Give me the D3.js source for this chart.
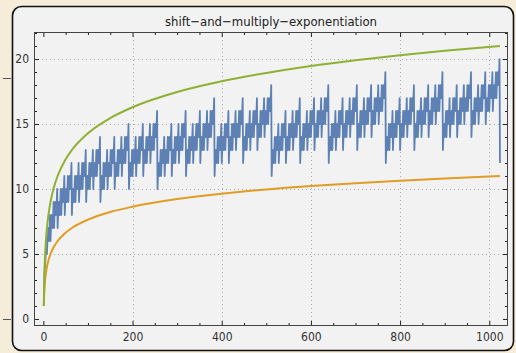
<!DOCTYPE html>
<html>
<head>
<meta charset="utf-8">
<script src="https://cdn.jsdelivr.net/npm/d3@7"></script>
<style>
  html, body { margin: 0; padding: 0; background: #f5ecd9; }
  svg { display: block; }
  text { font-family: "Liberation Sans Narrow", "DejaVu Sans Condensed", sans-serif; }
</style>
</head>
<body>
<div id="chart"></div>
<script>
// multiplications needed for exponent n = 1..1024 (read row by row, 16 per row)
const stepCounts = [
  2,3,4,4,5,5,6,5,6,6,7,6,7,7,8,
  6,7,7,8,7,8,8,9,7,8,8,9,8,9,9,10,
  7,8,8,9,8,9,9,10,8,9,9,10,9,10,10,11,
  8,9,9,10,9,10,10,11,9,10,10,11,10,11,11,12,
  8,9,9,10,9,10,10,11,9,10,10,11,10,11,11,12,
  9,10,10,11,10,11,11,12,10,11,11,12,11,12,12,13,
  9,10,10,11,10,11,11,12,10,11,11,12,11,12,12,13,
  10,11,11,12,11,12,12,13,11,12,12,13,12,13,13,14,
  9,10,10,11,10,11,11,12,10,11,11,12,11,12,12,13,
  10,11,11,12,11,12,12,13,11,12,12,13,12,13,13,14,
  10,11,11,12,11,12,12,13,11,12,12,13,12,13,13,14,
  11,12,12,13,12,13,13,14,12,13,13,14,13,14,14,15,
  10,11,11,12,11,12,12,13,11,12,12,13,12,13,13,14,
  11,12,12,13,12,13,13,14,12,13,13,14,13,14,14,15,
  11,12,12,13,12,13,13,14,12,13,13,14,13,14,14,15,
  12,13,13,14,13,14,14,15,13,14,14,15,14,15,15,16,
  10,11,11,12,11,12,12,13,11,12,12,13,12,13,13,14,
  11,12,12,13,12,13,13,14,12,13,13,14,13,14,14,15,
  11,12,12,13,12,13,13,14,12,13,13,14,13,14,14,15,
  12,13,13,14,13,14,14,15,13,14,14,15,14,15,15,16,
  11,12,12,13,12,13,13,14,12,13,13,14,13,14,14,15,
  12,13,13,14,13,14,14,15,13,14,14,15,14,15,15,16,
  12,13,13,14,13,14,14,15,13,14,14,15,14,15,15,16,
  13,14,14,15,14,15,15,16,14,15,15,16,15,16,16,17,
  11,12,12,13,12,13,13,14,12,13,13,14,13,14,14,15,
  12,13,13,14,13,14,14,15,13,14,14,15,14,15,15,16,
  12,13,13,14,13,14,14,15,13,14,14,15,14,15,15,16,
  13,14,14,15,14,15,15,16,14,15,15,16,15,16,16,17,
  12,13,13,14,13,14,14,15,13,14,14,15,14,15,15,16,
  13,14,14,15,14,15,15,16,14,15,15,16,15,16,16,17,
  13,14,14,15,14,15,15,16,14,15,15,16,15,16,16,17,
  14,15,15,16,15,16,16,17,15,16,16,17,16,17,17,18,
  11,12,12,13,12,13,13,14,12,13,13,14,13,14,14,15,
  12,13,13,14,13,14,14,15,13,14,14,15,14,15,15,16,
  12,13,13,14,13,14,14,15,13,14,14,15,14,15,15,16,
  13,14,14,15,14,15,15,16,14,15,15,16,15,16,16,17,
  12,13,13,14,13,14,14,15,13,14,14,15,14,15,15,16,
  13,14,14,15,14,15,15,16,14,15,15,16,15,16,16,17,
  13,14,14,15,14,15,15,16,14,15,15,16,15,16,16,17,
  14,15,15,16,15,16,16,17,15,16,16,17,16,17,17,18,
  12,13,13,14,13,14,14,15,13,14,14,15,14,15,15,16,
  13,14,14,15,14,15,15,16,14,15,15,16,15,16,16,17,
  13,14,14,15,14,15,15,16,14,15,15,16,15,16,16,17,
  14,15,15,16,15,16,16,17,15,16,16,17,16,17,17,18,
  13,14,14,15,14,15,15,16,14,15,15,16,15,16,16,17,
  14,15,15,16,15,16,16,17,15,16,16,17,16,17,17,18,
  14,15,15,16,15,16,16,17,15,16,16,17,16,17,17,18,
  15,16,16,17,16,17,17,18,16,17,17,18,17,18,18,19,
  12,13,13,14,13,14,14,15,13,14,14,15,14,15,15,16,
  13,14,14,15,14,15,15,16,14,15,15,16,15,16,16,17,
  13,14,14,15,14,15,15,16,14,15,15,16,15,16,16,17,
  14,15,15,16,15,16,16,17,15,16,16,17,16,17,17,18,
  13,14,14,15,14,15,15,16,14,15,15,16,15,16,16,17,
  14,15,15,16,15,16,16,17,15,16,16,17,16,17,17,18,
  14,15,15,16,15,16,16,17,15,16,16,17,16,17,17,18,
  15,16,16,17,16,17,17,18,16,17,17,18,17,18,18,19,
  13,14,14,15,14,15,15,16,14,15,15,16,15,16,16,17,
  14,15,15,16,15,16,16,17,15,16,16,17,16,17,17,18,
  14,15,15,16,15,16,16,17,15,16,16,17,16,17,17,18,
  15,16,16,17,16,17,17,18,16,17,17,18,17,18,18,19,
  14,15,15,16,15,16,16,17,15,16,16,17,16,17,17,18,
  15,16,16,17,16,17,17,18,16,17,17,18,17,18,18,19,
  15,16,16,17,16,17,17,18,16,17,17,18,17,18,18,19,
  16,17,17,18,17,18,18,19,17,18,18,19,18,19,19,20,
  12
];

// smooth bound curves
const boundN     = [1, 1.5, 2, 3, 4, 6, 8, 12, 16, 24, 32, 48, 64, 100, 150, 200, 300, 400, 500, 600, 700, 800, 900, 1024];
const upperBound = [1, 2.17, 3, 4.17, 5, 6.17, 7, 8.17, 9, 10.17, 11, 12.17, 13, 14.29, 15.46, 16.29, 17.46, 18.29, 18.93, 19.46, 19.9, 20.29, 20.63, 21];
const lowerBound = [1, 1.58, 2, 2.58, 3, 3.58, 4, 4.58, 5, 5.58, 6, 6.58, 7, 7.64, 8.23, 8.64, 9.23, 9.64, 9.97, 10.23, 10.45, 10.64, 10.81, 11];

const xTicks = [0, 200, 400, 600, 800, 1000];
const yTicks = [0, 5, 10, 15, 20];
const title = "shift\u2212and\u2212multiply\u2212exponentiation";

const W = 516, H = 353;
const plot = { left: 34, right: 508, top: 32, bottom: 326 };

const svg = d3.select("#chart").append("svg")
  .attr("width", W)
  .attr("height", H);

// page decorations
svg.append("rect")
  .attr("x", 12.5).attr("y", 6.5)
  .attr("width", 501).attr("height", 344)
  .attr("rx", 9)
  .attr("fill", "#f2f2f2")
  .attr("stroke", "#111")
  .attr("stroke-width", 1.6);

[78, 319].forEach(y => {
  svg.append("line")
    .attr("x1", 3).attr("x2", 11)
    .attr("y1", y + 0.5).attr("y2", y + 0.5)
    .attr("stroke", "#555");
});

const x = d3.scaleLinear().domain([-21, 1042]).range([plot.left, plot.right]);
const y = d3.scaleLinear().domain([-0.54, 22.08]).range([plot.bottom, plot.top]);

// grid
const grid = svg.append("g")
  .attr("stroke", "#a8a8a8")
  .attr("stroke-width", 1)
  .attr("stroke-dasharray", "1,3");

grid.selectAll("line.gx")
  .data(xTicks.filter(d => d !== 0))
  .join("line")
    .attr("x1", d => Math.round(x(d)) + 0.5)
    .attr("x2", d => Math.round(x(d)) + 0.5)
    .attr("y1", plot.top)
    .attr("y2", plot.bottom);

grid.selectAll("line.gy")
  .data(yTicks.filter(d => d !== 0))
  .join("line")
    .attr("y1", d => Math.round(y(d)) + 0.5)
    .attr("y2", d => Math.round(y(d)) + 0.5)
    .attr("x1", plot.left)
    .attr("x2", plot.right);

// series
svg.append("clipPath").attr("id", "clip")
  .append("rect")
    .attr("x", plot.left).attr("y", plot.top)
    .attr("width", plot.right - plot.left)
    .attr("height", plot.bottom - plot.top);

const series = svg.append("g").attr("clip-path", "url(#clip)");

const stepLine = d3.line()
  .x((d, i) => x(i + 1))
  .y(d => y(d));

series.append("path")
  .datum(stepCounts)
  .attr("fill", "none")
  .attr("stroke", "#5e81b5")
  .attr("stroke-width", 1.8)
  .attr("stroke-linejoin", "round")
  .attr("d", stepLine);

const boundLine = d3.line()
  .x((d, i) => x(boundN[i]))
  .y(d => y(d))
  .curve(d3.curveMonotoneX);

series.append("path")
  .datum(lowerBound)
  .attr("fill", "none")
  .attr("stroke", "#e19c24")
  .attr("stroke-width", 2)
  .attr("d", boundLine);

series.append("path")
  .datum(upperBound)
  .attr("fill", "none")
  .attr("stroke", "#8fb032")
  .attr("stroke-width", 2)
  .attr("d", boundLine);

// axes / frame
const xMinor = d3.range(0, 1001, 50).filter(d => !xTicks.includes(d));
const yMinor = d3.range(0, 23, 1).filter(d => !yTicks.includes(d));

function styleAxis(g) {
  g.select(".domain").remove();
  g.selectAll(".tick line").attr("stroke", "#222");
  g.selectAll(".tick text")
    .attr("fill", "#333")
    .style("font-size", "12px");
}

svg.append("g")
  .attr("transform", `translate(0,${plot.bottom})`)
  .call(d3.axisBottom(x).tickValues(xTicks).tickSize(-5).tickPadding(6).tickFormat(d3.format("d")))
  .call(styleAxis);

svg.append("g")
  .attr("transform", `translate(0,${plot.bottom})`)
  .call(d3.axisBottom(x).tickValues(xMinor).tickSize(-3).tickFormat(""))
  .call(styleAxis);

svg.append("g")
  .attr("transform", `translate(0,${plot.top})`)
  .call(d3.axisTop(x).tickValues(xTicks).tickSize(-5).tickFormat(""))
  .call(styleAxis);

svg.append("g")
  .attr("transform", `translate(0,${plot.top})`)
  .call(d3.axisTop(x).tickValues(xMinor).tickSize(-3).tickFormat(""))
  .call(styleAxis);

svg.append("g")
  .attr("transform", `translate(${plot.left},0)`)
  .call(d3.axisLeft(y).tickValues(yTicks).tickSize(-5).tickPadding(5))
  .call(styleAxis);

svg.append("g")
  .attr("transform", `translate(${plot.left},0)`)
  .call(d3.axisLeft(y).tickValues(yMinor).tickSize(-3).tickFormat(""))
  .call(styleAxis);

svg.append("g")
  .attr("transform", `translate(${plot.right},0)`)
  .call(d3.axisRight(y).tickValues(yTicks).tickSize(-5).tickFormat(""))
  .call(styleAxis);

svg.append("g")
  .attr("transform", `translate(${plot.right},0)`)
  .call(d3.axisRight(y).tickValues(yMinor).tickSize(-3).tickFormat(""))
  .call(styleAxis);

svg.append("rect")
  .attr("x", plot.left + 0.5).attr("y", plot.top + 0.5)
  .attr("width", plot.right - plot.left - 1)
  .attr("height", plot.bottom - plot.top - 1)
  .attr("fill", "none")
  .attr("stroke", "#444")
  .attr("stroke-width", 1);

svg.append("text")
  .attr("x", (plot.left + plot.right) / 2)
  .attr("y", 26)
  .attr("text-anchor", "middle")
  .attr("fill", "#222")
  .style("font-size", "13px")
  .text(title);
</script>
</body>
</html>
